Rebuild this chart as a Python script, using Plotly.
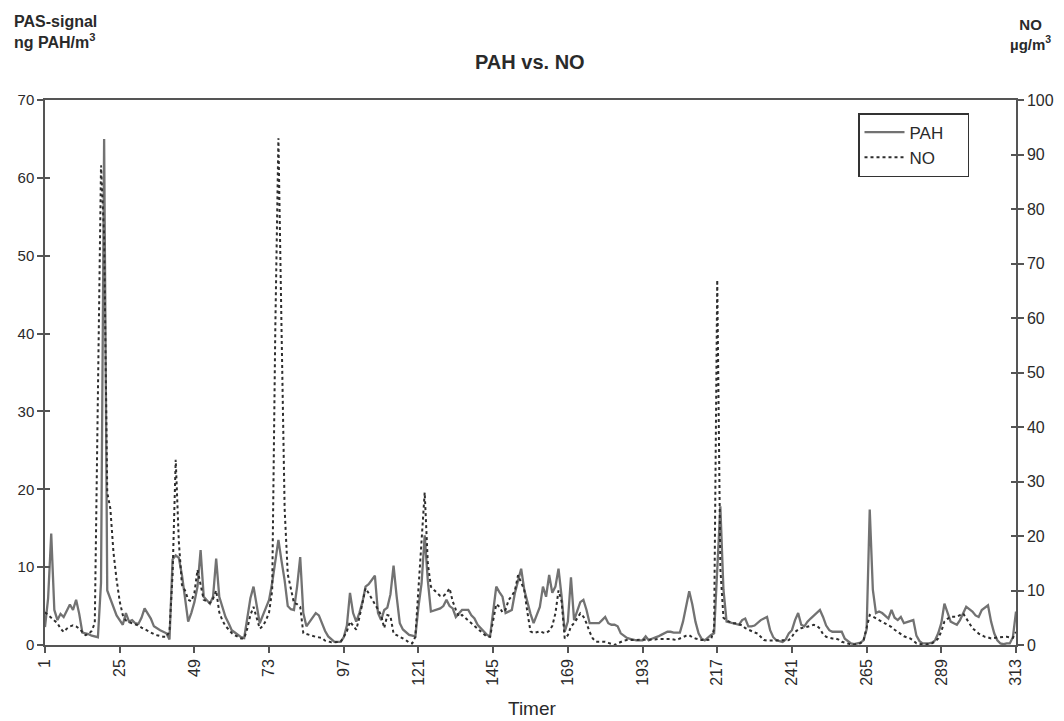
import plotly.graph_objects as go

# Hourly values (hour 1 .. 313)
pah = [
    2.3, 6.0, 14.3, 4.5, 3.2, 4.0, 3.6, 4.4, 5.2, 4.5,
    5.8, 4.0, 1.6, 1.5, 1.4, 1.2, 1.1, 1.0, 8.0, 65.0,
    7.0, 6.0, 5.0, 3.8, 3.2, 2.6, 4.1, 3.0, 3.2, 2.8,
    2.7, 3.5, 4.7, 4.0, 3.4, 2.4, 2.1, 1.9, 1.7, 1.5,
    0.7, 11.0, 11.5, 11.2, 9.0, 5.8, 3.0, 4.1, 5.5, 7.5,
    12.2, 6.2, 5.8, 5.3, 6.2, 11.1, 6.2, 4.8, 3.6, 2.8,
    1.9, 1.6, 1.3, 1.0, 0.9, 3.5, 6.0, 7.5, 5.0, 2.8,
    3.8, 4.8, 5.8, 8.0, 10.5, 13.5, 10.8, 8.3, 5.0, 4.6,
    4.5, 7.5, 11.3, 4.1, 2.4, 3.0, 3.6, 4.1, 3.8, 2.8,
    1.8, 1.1, 0.7, 0.4, 0.4, 0.4, 1.0, 2.5, 6.7, 4.1,
    3.0, 4.1, 5.5, 7.5, 7.8, 8.3, 8.9, 4.1, 3.2, 4.5,
    4.8, 6.5, 10.2, 6.2, 2.8, 2.0, 1.7, 1.3, 1.2, 1.1,
    4.9, 7.9, 14.1, 8.3, 4.3, 4.4, 4.5, 4.7, 5.0, 5.8,
    5.0, 4.7, 3.6, 4.0, 4.5, 4.5, 4.5, 3.8, 3.4, 2.6,
    2.2, 1.7, 1.3, 1.1, 4.5, 7.5, 6.8, 6.2, 4.1, 4.3,
    4.5, 6.7, 8.2, 9.8, 7.1, 5.5, 4.0, 2.8, 3.8, 4.9,
    7.5, 6.2, 9.0, 6.7, 7.5, 9.8, 6.2, 1.7, 3.0, 8.7,
    3.2, 4.5, 5.5, 5.8, 4.5, 2.8, 2.8, 2.8, 2.8, 3.2,
    3.6, 2.8, 2.6, 2.6, 2.4, 1.5, 1.2, 0.9, 0.8, 0.7,
    0.6, 0.6, 0.6, 1.1, 0.6, 0.8, 0.9, 1.1, 1.3, 1.5,
    1.7, 1.7, 1.6, 1.6, 1.6, 3.0, 4.8, 6.9, 5.2, 3.0,
    1.5, 0.8, 0.6, 1.0, 1.3, 1.5, 9.2, 17.8, 7.1, 3.0,
    2.9, 2.8, 2.7, 2.6, 3.2, 3.4, 2.4, 2.4, 2.5, 2.9,
    3.2, 3.4, 3.6, 1.9, 1.0, 0.6, 0.5, 0.4, 0.7, 1.5,
    1.9, 3.2, 4.1, 2.6, 2.4, 3.0, 3.4, 3.8, 4.2, 4.5,
    3.6, 2.5, 1.9, 1.7, 1.7, 1.7, 1.7, 0.8, 0.5, 0.2,
    0.1, 0.2, 0.3, 0.6, 2.0, 17.4, 7.1, 4.1, 4.3, 4.1,
    3.8, 3.4, 4.5, 3.5, 3.2, 3.6, 2.8, 2.9, 3.0, 3.2,
    1.2, 0.5, 0.2, 0.2, 0.2, 0.3, 0.6, 1.5, 2.8, 5.3,
    4.0, 3.0, 2.8, 2.6, 3.2, 4.0, 4.9, 4.6, 4.3, 3.8,
    3.6, 4.5, 4.8, 5.1, 3.0, 1.5, 0.6, 0.2, 0.1, 0.2,
    0.2, 1.0, 4.3,
]

no = [
    6.0, 5.5, 5.0, 4.5, 4.0, 3.0, 2.4, 3.0, 3.4, 3.6,
    3.4, 3.0, 2.4, 1.8, 2.0, 2.6, 4.0, 45.0, 88.0, 75.0,
    28.0, 25.0, 17.0, 12.0, 8.0, 5.5, 4.5, 4.2, 4.0, 3.8,
    3.6, 3.2, 2.9, 2.6, 2.2, 2.0, 1.8, 1.6, 1.5, 1.5,
    2.5, 13.0, 34.0, 19.0, 11.0, 10.0, 8.3, 8.0, 9.5, 13.8,
    11.3, 8.3, 8.0, 7.7, 8.5, 10.0, 6.0, 4.5, 3.5, 2.8,
    2.2, 1.8, 1.5, 1.2, 1.2, 3.0, 5.5, 7.0, 5.0, 3.0,
    3.5, 4.5, 6.0, 10.0, 58.0, 93.0, 58.0, 25.0, 13.0, 10.0,
    7.7, 7.5, 7.0, 2.2, 2.0, 1.8, 1.6, 1.5, 1.4, 1.3,
    0.8, 0.6, 0.5, 0.5, 0.5, 0.6, 1.5, 2.5, 4.3, 3.5,
    2.8, 5.0, 8.0, 10.4, 9.5, 8.5, 7.5, 6.5, 5.5, 3.1,
    5.5, 5.3, 2.1, 1.8, 1.5, 1.1, 0.9, 0.4, 0.3, 1.5,
    10.0, 19.0, 28.0, 15.0, 10.7, 10.1, 9.5, 9.0, 9.0, 9.5,
    10.4, 8.0, 6.5, 5.2, 5.5, 5.0, 4.5, 4.0, 3.5, 3.0,
    2.5, 2.0, 1.5, 1.5, 4.5, 7.5, 7.0, 6.0, 6.5, 8.3,
    9.0, 10.0, 12.8, 11.5, 10.1, 6.0, 2.5, 2.2, 2.4, 2.5,
    2.3, 2.2, 2.6, 3.5, 5.8, 10.0, 8.0, 1.2, 1.8, 3.4,
    4.0, 5.0, 5.8, 5.2, 4.0, 2.4, 1.2, 0.6, 0.6, 0.6,
    0.6, 0.4, 0.2, 0.0, 0.3, 0.6, 0.8, 0.9, 0.9, 0.9,
    0.9, 0.9, 0.9, 0.9, 0.9, 1.0, 1.0, 1.1, 1.1, 1.2,
    1.2, 1.1, 1.0, 0.9, 1.2, 1.5, 1.7, 1.8, 1.4, 1.2,
    1.0, 0.9, 0.9, 0.9, 1.0, 3.0, 67.0, 14.0, 5.0, 4.5,
    4.2, 4.0, 4.0, 3.8, 3.6, 3.1, 2.8, 2.5, 2.3, 2.1,
    1.5, 0.9, 0.8, 0.8, 0.8, 0.8, 0.8, 0.8, 0.8, 0.9,
    1.5, 2.4, 2.8, 3.1, 3.2, 3.3, 3.5, 3.7, 3.5, 3.0,
    2.0, 1.5, 1.3, 1.2, 1.2, 1.0, 0.6, 0.4, 0.2, 0.1,
    0.1, 0.2, 0.3, 0.8, 3.4, 5.5, 5.2, 4.9, 4.6, 4.3,
    4.0, 3.7, 3.3, 2.8, 2.4, 2.1, 1.6, 1.4, 1.2, 0.8,
    0.3, 0.2, 0.1, 0.1, 0.2, 0.3, 0.6, 1.2, 2.5, 4.3,
    4.8, 5.2, 5.2, 5.2, 5.5, 5.8, 4.9, 4.0, 3.1, 2.6,
    2.1, 1.8, 1.5, 1.4, 1.2, 1.3, 1.4, 1.5, 1.5, 1.5,
    1.4, 1.3, 2.4,
]

series_names = ["PAH", "NO"]

hours_pah = list(range(1, len(pah) + 1))
hours_no = list(range(1, len(no) + 1))
x_ticks = list(range(1, 314, 24))

FONT = "Liberation Sans, Arial, sans-serif"
AXC = "#555555"
TXT = "#2a2a2a"

W, H = 1064, 721
ML, MR, MT, MB = 45, 48, 100, 76
PW, PH = W - ML - MR, H - MT - MB


def xp(px):
    return (px - ML) / PW


def yp(py):
    return (H - MB - py) / PH


PAD = "\u00a0\u00a0\u00a0\u00a0"

fig = go.Figure()
fig.add_trace(go.Scatter(
    x=hours_pah, y=pah, name=series_names[0] + PAD, mode="lines",
    line=dict(color="#727272", width=2.3), yaxis="y",
))
fig.add_trace(go.Scatter(
    x=hours_no, y=no, name=series_names[1] + PAD, mode="lines",
    line=dict(color="#2e2e2e", width=2, dash="dot"), yaxis="y2",
))

fig.update_layout(
    width=W, height=H,
    margin=dict(l=ML, r=MR, t=MT, b=MB, autoexpand=False),
    paper_bgcolor="white", plot_bgcolor="white",
    font=dict(family=FONT, size=15, color=TXT),
    showlegend=True,
    legend=dict(
        x=xp(858), y=yp(113), xanchor="left", yanchor="top",
        bordercolor="#333333", borderwidth=1.5, bgcolor="white",
        font=dict(size=17, color=TXT),
        itemwidth=40, tracegroupgap=0,
    ),
    xaxis=dict(
        range=[1, 313], tickmode="array", tickvals=x_ticks,
        ticktext=[str(v) for v in x_ticks], tickangle=-90,
        tickfont=dict(size=16),
        ticks="outside", ticklen=6, tickcolor=AXC, tickwidth=1.5,
        showline=True, linecolor=AXC, linewidth=1.5, mirror=True,
        showgrid=False, zeroline=False,
    ),
    yaxis=dict(
        range=[0, 70], dtick=10, ticks="outside", ticklen=6, tickcolor=AXC,
        tickwidth=1.5, tickfont=dict(size=15),
        showline=True, linecolor=AXC, linewidth=1.5,
        showgrid=False, zeroline=False,
    ),
    yaxis2=dict(
        range=[0, 100], dtick=10, overlaying="y", side="right",
        ticks="outside", ticklen=6, tickcolor=AXC, tickwidth=1.5,
        tickfont=dict(size=16),
        showline=True, linecolor=AXC, linewidth=1.5,
        showgrid=False, zeroline=False,
    ),
    # inner halves of the crossing tick marks
    yaxis3=dict(
        range=[0, 70], dtick=10, overlaying="y", side="left",
        ticks="inside", ticklen=5, tickcolor=AXC, tickwidth=1.5,
        showticklabels=False, showline=False, showgrid=False, zeroline=False,
    ),
    yaxis4=dict(
        range=[0, 100], dtick=10, overlaying="y", side="right",
        ticks="inside", ticklen=5, tickcolor=AXC, tickwidth=1.5,
        showticklabels=False, showline=False, showgrid=False, zeroline=False,
    ),
)

# invisible helper traces so the overlay tick axes are drawn
fig.add_trace(go.Scatter(x=[1], y=[0], yaxis="y3", mode="markers",
                         marker=dict(opacity=0), showlegend=False, hoverinfo="skip"))
fig.add_trace(go.Scatter(x=[1], y=[0], yaxis="y4", mode="markers",
                         marker=dict(opacity=0), showlegend=False, hoverinfo="skip"))

fig.add_annotation(text="<b>PAH vs. NO</b>", xref="paper", yref="paper",
                   x=xp(530), y=yp(62), xanchor="center", yanchor="middle",
                   showarrow=False, font=dict(size=20, color=TXT))
fig.add_annotation(text="<b>PAS-signal<br>ng PAH/m<sup>3</sup></b>", xref="paper", yref="paper",
                   x=xp(12), y=yp(32), xanchor="left", yanchor="middle",
                   align="left", showarrow=False, font=dict(size=16, color=TXT))
fig.add_annotation(text="<b>NO<br>µg/m<sup>3</sup></b>", xref="paper", yref="paper",
                   x=xp(1030), y=yp(34), xanchor="center", yanchor="middle",
                   align="center", showarrow=False, font=dict(size=15, color=TXT))
fig.add_annotation(text="Timer", xref="paper", yref="paper",
                   x=xp(532), y=yp(708), xanchor="center", yanchor="middle",
                   showarrow=False, font=dict(size=19, color=TXT))

fig.write_html("out.html", config={"displayModeBar": False},
               post_script="document.body.style.margin='0px';")
